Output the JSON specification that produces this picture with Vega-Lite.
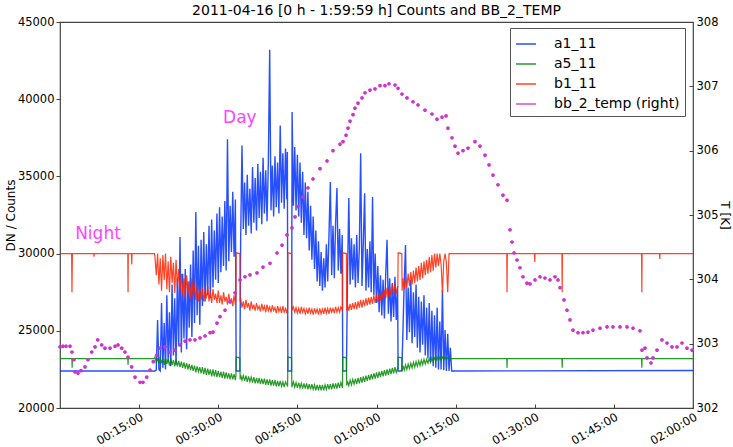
{
  "$schema": "https://vega.github.io/schema/vega-lite/v6.json",
  "width": 633,
  "height": 386,
  "autosize": "none",
  "padding": {"left": 60, "top": 22, "right": 40, "bottom": 39},
  "background": "white",
  "title": {"text": "2011-04-16 [0 h - 1:59:59 h] Counts and BB_2_TEMP", "fontSize": 14, "fontWeight": "normal", "font": "DejaVu Sans", "color": "#000", "offset": -2},
  "config": {
    "font": "DejaVu Sans",
    "view": {"stroke": "#444", "strokeWidth": 1.2},
    "axis": {"grid": false, "domain": false, "labelFont": "DejaVu Sans", "labelFontSize": 11.5, "labelColor": "#000", "tickColor": "#444", "titleFont": "DejaVu Sans", "titleFontSize": 12, "titleFontWeight": "normal", "titleColor": "#000"}
  },
  "datasets": {
    "a1": [
      {"t":0,"v":22400},{"t":18,"v":22400},{"t":18.25,"v":22450},{"t":18.5,"v":25700},{"t":18.75,"v":22500},{"t":19,"v":22400},{"t":19.25,"v":26800},{"t":19.5,"v":22600},{"t":19.75,"v":25500},{"t":20,"v":22500},{"t":20.25,"v":27300},{"t":20.5,"v":23000},{"t":20.75,"v":26200},{"t":21,"v":22700},{"t":21.25,"v":28000},{"t":21.5,"v":23400},{"t":21.75,"v":27100},{"t":22,"v":22800},{"t":22.25,"v":28400},{"t":22.5,"v":24000},{"t":22.75,"v":31080},{"t":23,"v":23600},{"t":23.25,"v":28700},{"t":23.5,"v":24500},{"t":23.75,"v":29000},{"t":24,"v":23800},{"t":24.25,"v":28200},{"t":24.5,"v":25200},{"t":24.75,"v":29300},{"t":25,"v":24600},{"t":25.25,"v":30200},{"t":25.5,"v":25500},{"t":25.75,"v":32700},{"t":26,"v":26000},{"t":26.25,"v":30500},{"t":26.5,"v":25400},{"t":26.75,"v":30900},{"t":27,"v":26600},{"t":27.25,"v":31400},{"t":27.5,"v":26900},{"t":27.75,"v":30600},{"t":28,"v":27300},{"t":28.25,"v":31800},{"t":28.5,"v":27100},{"t":28.75,"v":32200},{"t":29,"v":27800},{"t":29.25,"v":31500},{"t":29.5,"v":28300},{"t":29.75,"v":32600},{"t":30,"v":28100},{"t":30.25,"v":33000},{"t":30.5,"v":28800},{"t":30.75,"v":32400},{"t":31,"v":29200},{"t":31.25,"v":33400},{"t":31.5,"v":28900},{"t":31.75,"v":37400},{"t":32,"v":29500},{"t":32.25,"v":33100},{"t":32.5,"v":30100},{"t":32.75,"v":34000},{"t":33,"v":29800},{"t":33.25,"v":33500},{"t":33.4,"v":22400},{"t":34.1,"v":22400},
      {"t":34.25,"v":31000},{"t":34.5,"v":37000},{"t":34.75,"v":31600},{"t":35,"v":34600},{"t":35.25,"v":31200},{"t":35.5,"v":35100},{"t":35.75,"v":31800},{"t":36,"v":34200},{"t":36.25,"v":31300},{"t":36.5,"v":35600},{"t":36.75,"v":32000},{"t":37,"v":34900},{"t":37.25,"v":31500},{"t":37.5,"v":35800},{"t":37.75,"v":32300},{"t":38,"v":35300},{"t":38.25,"v":31900},{"t":38.5,"v":36200},{"t":38.75,"v":32600},{"t":39,"v":35400},{"t":39.25,"v":32100},{"t":39.5,"v":36000},{"t":39.75,"v":43200},{"t":40,"v":32800},{"t":40.25,"v":35700},{"t":40.5,"v":32400},{"t":40.75,"v":36300},{"t":41,"v":33000},{"t":41.25,"v":35900},{"t":41.5,"v":32600},{"t":41.75,"v":38300},{"t":42,"v":33300},{"t":42.25,"v":36500},{"t":42.5,"v":32900},{"t":42.75,"v":36800},{"t":43,"v":33500},{"t":43.1,"v":36580},{"t":43.2,"v":22400},{"t":43.9,"v":22400},
      {"t":44,"v":39170},{"t":44.25,"v":33100},{"t":44.5,"v":36900},{"t":44.75,"v":32800},{"t":45,"v":36400},{"t":45.25,"v":32400},{"t":45.5,"v":35900},{"t":45.75,"v":32000},{"t":46,"v":35300},{"t":46.25,"v":31200},{"t":46.5,"v":34600},{"t":46.75,"v":31000},{"t":47,"v":34000},{"t":47.25,"v":30200},{"t":47.5,"v":33100},{"t":47.75,"v":29600},{"t":48,"v":32400},{"t":48.25,"v":29000},{"t":48.5,"v":31500},{"t":48.75,"v":28200},{"t":49,"v":30800},{"t":49.25,"v":27900},{"t":49.5,"v":30100},{"t":49.75,"v":27600},{"t":50,"v":29700},{"t":50.25,"v":27800},{"t":50.5,"v":30600},{"t":50.75,"v":28200},{"t":51,"v":31300},{"t":51.25,"v":34640},{"t":51.5,"v":28600},{"t":51.75,"v":31800},{"t":52,"v":28400},{"t":52.25,"v":32000},{"t":52.5,"v":34250},{"t":52.75,"v":28900},{"t":53,"v":31600},{"t":53.25,"v":28700},{"t":53.5,"v":31200},{"t":53.6,"v":22400},{"t":54.3,"v":22400},
      {"t":54.5,"v":28400},{"t":54.75,"v":33600},{"t":55,"v":28000},{"t":55.25,"v":31000},{"t":55.5,"v":28300},{"t":55.75,"v":30600},{"t":56,"v":27800},{"t":56.25,"v":31200},{"t":56.5,"v":28100},{"t":56.75,"v":30400},{"t":57,"v":36500},{"t":57.25,"v":27900},{"t":57.5,"v":30700},{"t":57.75,"v":33900},{"t":58,"v":27600},{"t":58.25,"v":30300},{"t":58.5,"v":27800},{"t":58.75,"v":30800},{"t":59,"v":27500},{"t":59.25,"v":33660},{"t":59.5,"v":27300},{"t":59.75,"v":30000},{"t":60,"v":26800},{"t":60.25,"v":29200},{"t":60.5,"v":26200},{"t":60.75,"v":28600},{"t":61,"v":26000},{"t":61.25,"v":28300},{"t":61.5,"v":25800},{"t":61.75,"v":28700},{"t":62,"v":30900},{"t":62.25,"v":26100},{"t":62.5,"v":28400},{"t":62.75,"v":25600},{"t":63,"v":28100},{"t":63.25,"v":25900},{"t":63.5,"v":28500},{"t":63.75,"v":25700},{"t":64,"v":27900},{"t":64.1,"v":22400},{"t":64.8,"v":22400},
      {"t":65,"v":24800},{"t":65.25,"v":28100},{"t":65.5,"v":30560},{"t":65.75,"v":24400},{"t":66,"v":27800},{"t":66.25,"v":24900},{"t":66.5,"v":28300},{"t":66.75,"v":24200},{"t":67,"v":27500},{"t":67.25,"v":24600},{"t":67.5,"v":28000},{"t":67.75,"v":23900},{"t":68,"v":27200},{"t":68.25,"v":23600},{"t":68.5,"v":26900},{"t":68.75,"v":24100},{"t":69,"v":27300},{"t":69.25,"v":23400},{"t":69.5,"v":26500},{"t":69.75,"v":23200},{"t":70,"v":26800},{"t":70.25,"v":23000},{"t":70.5,"v":26300},{"t":70.75,"v":22700},{"t":71,"v":26000},{"t":71.25,"v":22600},{"t":71.5,"v":26500},{"t":71.75,"v":22500},{"t":72,"v":25600},{"t":72.25,"v":22500},{"t":72.5,"v":27640},{"t":72.75,"v":22450},{"t":73,"v":25050},{"t":73.25,"v":22400},{"t":73.5,"v":24800},{"t":73.75,"v":22400},{"t":74,"v":23900},{"t":74.25,"v":22400},{"t":120,"v":22430}
    ],
    "a5": [
      {"t":0,"v":23200},{"t":2.25,"v":23200},{"t":2.3,"v":22600},{"t":2.35,"v":23200},{"t":12.85,"v":23200},{"t":12.9,"v":22800},{"t":12.95,"v":23200},{"t":17.9,"v":23200},
      {"t":18,"v":23300},{"t":18.25,"v":22950},{"t":18.5,"v":23250},{"t":18.75,"v":22850},{"t":19,"v":23300},{"t":19.25,"v":22900},{"t":19.5,"v":23200},{"t":19.75,"v":22800},{"t":20,"v":23250},{"t":20.25,"v":22850},{"t":20.5,"v":23150},{"t":20.75,"v":22750},{"t":21,"v":23200},{"t":21.25,"v":22800},{"t":21.5,"v":23100},{"t":21.75,"v":22700},{"t":22,"v":23150},{"t":22.25,"v":22700},{"t":22.5,"v":23050},{"t":22.75,"v":22650},{"t":23,"v":23000},{"t":23.25,"v":22600},{"t":23.5,"v":22950},{"t":23.75,"v":22550},{"t":24,"v":22900},{"t":24.25,"v":22500},{"t":24.5,"v":22850},{"t":24.75,"v":22450},{"t":25,"v":22800},{"t":25.25,"v":22400},{"t":25.5,"v":22750},{"t":25.75,"v":22300},{"t":26,"v":22700},{"t":26.25,"v":22350},{"t":26.5,"v":22650},{"t":26.75,"v":22250},{"t":27,"v":22650},{"t":27.25,"v":22200},{"t":27.5,"v":22600},{"t":27.75,"v":22150},{"t":28,"v":22550},{"t":28.25,"v":22150},{"t":28.5,"v":22500},{"t":28.75,"v":22050},{"t":29,"v":22500},{"t":29.25,"v":22050},{"t":29.5,"v":22450},{"t":29.75,"v":22000},{"t":30,"v":22400},{"t":30.25,"v":22000},{"t":30.5,"v":22350},{"t":30.75,"v":21950},{"t":31,"v":22350},{"t":31.25,"v":21900},{"t":31.5,"v":22300},{"t":31.75,"v":21900},{"t":32,"v":22250},{"t":32.25,"v":21850},{"t":32.5,"v":22250},{"t":32.75,"v":21850},{"t":33,"v":22200},{"t":33.25,"v":21800},{"t":33.35,"v":22100},{"t":33.4,"v":23300},{"t":34.1,"v":23250},{"t":34.15,"v":21850},
      {"t":34.25,"v":22150},{"t":34.5,"v":21800},{"t":34.75,"v":22100},{"t":35,"v":21750},{"t":35.25,"v":22100},{"t":35.5,"v":21700},{"t":35.75,"v":22050},{"t":36,"v":21700},{"t":36.25,"v":22000},{"t":36.5,"v":21650},{"t":36.75,"v":22000},{"t":37,"v":21600},{"t":37.25,"v":21950},{"t":37.5,"v":21600},{"t":37.75,"v":21950},{"t":38,"v":21550},{"t":38.25,"v":21900},{"t":38.5,"v":21550},{"t":38.75,"v":21900},{"t":39,"v":21500},{"t":39.25,"v":21850},{"t":39.5,"v":21500},{"t":39.75,"v":21850},{"t":40,"v":21450},{"t":40.25,"v":21800},{"t":40.5,"v":21450},{"t":40.75,"v":21800},{"t":41,"v":21400},{"t":41.25,"v":21750},{"t":41.5,"v":21400},{"t":41.75,"v":21750},{"t":42,"v":21400},{"t":42.25,"v":21700},{"t":42.5,"v":21350},{"t":42.75,"v":21700},{"t":43.15,"v":21400},{"t":43.2,"v":23300},{"t":43.9,"v":23250},{"t":43.95,"v":21350},
      {"t":44.25,"v":21700},{"t":44.5,"v":21350},{"t":44.75,"v":21650},{"t":45,"v":21300},{"t":45.25,"v":21650},{"t":45.5,"v":21300},{"t":45.75,"v":21600},{"t":46,"v":21250},{"t":46.25,"v":21600},{"t":46.5,"v":21250},{"t":46.75,"v":21600},{"t":47,"v":21200},{"t":47.25,"v":21550},{"t":47.5,"v":21200},{"t":47.75,"v":21550},{"t":48,"v":21200},{"t":48.25,"v":21500},{"t":48.5,"v":21150},{"t":48.75,"v":21500},{"t":49,"v":21150},{"t":49.25,"v":21500},{"t":49.5,"v":21150},{"t":49.75,"v":21500},{"t":50,"v":21150},{"t":50.25,"v":21500},{"t":50.5,"v":21200},{"t":50.75,"v":21550},{"t":51,"v":21200},{"t":51.25,"v":21550},{"t":51.5,"v":21200},{"t":51.75,"v":21600},{"t":52,"v":21250},{"t":52.25,"v":21600},{"t":52.5,"v":21250},{"t":52.75,"v":21650},{"t":53,"v":21300},{"t":53.25,"v":21650},{"t":53.55,"v":21300},{"t":53.6,"v":23300},{"t":54.3,"v":23250},{"t":54.35,"v":21450},
      {"t":54.5,"v":21750},{"t":54.75,"v":21450},{"t":55,"v":21800},{"t":55.25,"v":21500},{"t":55.5,"v":21850},{"t":55.75,"v":21550},{"t":56,"v":21900},{"t":56.25,"v":21550},{"t":56.5,"v":21950},{"t":56.75,"v":21600},{"t":57,"v":22000},{"t":57.25,"v":21650},{"t":57.5,"v":22050},{"t":57.75,"v":21700},{"t":58,"v":22100},{"t":58.25,"v":21750},{"t":58.5,"v":22150},{"t":58.75,"v":21800},{"t":59,"v":22200},{"t":59.25,"v":21850},{"t":59.5,"v":22250},{"t":59.75,"v":21900},{"t":60,"v":22300},{"t":60.25,"v":21950},{"t":60.5,"v":22350},{"t":60.75,"v":22000},{"t":61,"v":22400},{"t":61.25,"v":22050},{"t":61.5,"v":22450},{"t":61.75,"v":22100},{"t":62,"v":22500},{"t":62.25,"v":22150},{"t":62.5,"v":22550},{"t":62.75,"v":22200},{"t":63,"v":22600},{"t":63.25,"v":22250},{"t":63.5,"v":22650},{"t":63.75,"v":22300},{"t":64.05,"v":22600},{"t":64.1,"v":23300},{"t":64.8,"v":23250},{"t":64.85,"v":22400},
      {"t":65,"v":22750},{"t":65.25,"v":22450},{"t":65.5,"v":22800},{"t":65.75,"v":22500},{"t":66,"v":22850},{"t":66.25,"v":22550},{"t":66.5,"v":22900},{"t":66.75,"v":22600},{"t":67,"v":22950},{"t":67.25,"v":22650},{"t":67.5,"v":23000},{"t":67.75,"v":22700},{"t":68,"v":23050},{"t":68.25,"v":22750},{"t":68.5,"v":23100},{"t":68.75,"v":22800},{"t":69,"v":23150},{"t":69.25,"v":22850},{"t":69.5,"v":23150},{"t":69.75,"v":22900},{"t":70,"v":23200},{"t":70.25,"v":22950},{"t":70.5,"v":23250},{"t":70.75,"v":23000},{"t":71,"v":23250},{"t":71.25,"v":23050},{"t":71.5,"v":23300},{"t":71.75,"v":23050},{"t":72,"v":23300},{"t":72.25,"v":23100},{"t":72.5,"v":23300},{"t":72.75,"v":23150},{"t":73,"v":23300},{"t":73.25,"v":23150},{"t":73.5,"v":23250},{"t":73.75,"v":23200},{"t":74,"v":23200},
      {"t":84.7,"v":23200},{"t":84.74,"v":22600},{"t":84.8,"v":23200},{"t":95.15,"v":23200},{"t":95.2,"v":22600},{"t":95.25,"v":23200},{"t":110.25,"v":23200},{"t":110.3,"v":22600},{"t":110.35,"v":23200},{"t":120,"v":23200}
    ],
    "b1": [
      {"t":0,"v":30000},{"t":2.2,"v":30000},{"t":2.27,"v":27500},{"t":2.35,"v":30000},{"t":6.4,"v":30000},{"t":6.45,"v":29800},{"t":6.5,"v":30000},{"t":12.85,"v":30000},{"t":12.9,"v":27500},{"t":12.95,"v":30000},{"t":13.55,"v":30000},{"t":13.6,"v":29300},{"t":13.65,"v":30000},{"t":17.9,"v":30000},
      {"t":18,"v":29800},{"t":18.25,"v":28600},{"t":18.5,"v":30000},{"t":18.75,"v":28000},{"t":19,"v":29700},{"t":19.25,"v":27600},{"t":19.5,"v":29900},{"t":19.75,"v":28300},{"t":20,"v":30000},{"t":20.25,"v":27700},{"t":20.5,"v":29500},{"t":20.75,"v":27500},{"t":21,"v":29800},{"t":21.25,"v":28100},{"t":21.5,"v":29400},{"t":21.75,"v":27450},{"t":22,"v":29600},{"t":22.25,"v":27800},{"t":22.5,"v":29000},{"t":22.75,"v":27600},
      {"t":23,"v":28700},{"t":23.25,"v":27300},{"t":23.5,"v":28400},{"t":23.75,"v":27100},{"t":24,"v":28600},{"t":24.25,"v":27400},{"t":24.5,"v":28200},{"t":24.75,"v":27000},{"t":25,"v":28400},{"t":25.25,"v":27200},{"t":25.5,"v":28000},{"t":25.75,"v":27000},
      {"t":26,"v":27900},{"t":26.25,"v":26900},{"t":26.5,"v":27700},{"t":26.75,"v":27000},{"t":27,"v":27800},{"t":27.25,"v":26900},{"t":27.5,"v":27600},{"t":27.75,"v":27100},{"t":28,"v":27900},{"t":28.25,"v":26900},{"t":28.5,"v":27500},{"t":28.75,"v":26800},{"t":29,"v":27700},{"t":29.25,"v":27000},{"t":29.5,"v":27400},{"t":29.75,"v":26800},
      {"t":30,"v":27600},{"t":30.25,"v":26800},{"t":30.5,"v":27300},{"t":30.75,"v":26700},{"t":31,"v":27500},{"t":31.25,"v":26900},{"t":31.5,"v":27200},{"t":31.75,"v":26700},{"t":32,"v":27400},{"t":32.25,"v":26800},{"t":32.5,"v":27100},{"t":32.75,"v":26600},{"t":33,"v":27300},{"t":33.25,"v":26700},{"t":33.35,"v":27000},{"t":33.4,"v":30050},{"t":34.1,"v":30000},{"t":34.15,"v":26900},
      {"t":34.25,"v":27100},{"t":34.5,"v":26500},{"t":34.75,"v":26900},{"t":35,"v":26400},{"t":35.25,"v":27000},{"t":35.5,"v":26500},{"t":35.75,"v":26800},{"t":36,"v":26300},{"t":36.25,"v":26900},{"t":36.5,"v":26400},{"t":36.75,"v":26700},{"t":37,"v":26300},{"t":37.25,"v":26800},{"t":37.5,"v":26400},{"t":37.75,"v":26600},{"t":38,"v":26250},{"t":38.25,"v":26750},{"t":38.5,"v":26350},{"t":38.75,"v":26600},{"t":39,"v":26200},{"t":39.25,"v":26700},{"t":39.5,"v":26300},{"t":39.75,"v":26550},{"t":40,"v":26200},{"t":40.25,"v":26650},{"t":40.5,"v":26300},{"t":40.75,"v":26500},{"t":41,"v":26150},{"t":41.25,"v":26600},{"t":41.5,"v":26250},{"t":41.75,"v":26500},{"t":42,"v":26150},{"t":42.25,"v":26600},{"t":42.5,"v":26200},{"t":42.75,"v":26450},{"t":43,"v":26150},{"t":43.15,"v":26500},{"t":43.2,"v":30050},{"t":43.9,"v":30000},{"t":43.95,"v":26300},
      {"t":44.25,"v":26550},{"t":44.5,"v":26200},{"t":44.75,"v":26500},{"t":45,"v":26150},{"t":45.25,"v":26450},{"t":45.5,"v":26100},{"t":45.75,"v":26550},{"t":46,"v":26200},{"t":46.25,"v":26450},{"t":46.5,"v":26100},{"t":46.75,"v":26400},{"t":47,"v":26100},{"t":47.25,"v":26500},{"t":47.5,"v":26150},{"t":47.75,"v":26400},{"t":48,"v":26050},{"t":48.25,"v":26450},{"t":48.5,"v":26150},{"t":48.75,"v":26400},{"t":49,"v":26050},{"t":49.25,"v":26450},{"t":49.5,"v":26100},{"t":49.75,"v":26400},{"t":50,"v":26100},{"t":50.25,"v":26500},{"t":50.5,"v":26150},{"t":50.75,"v":26450},{"t":51,"v":26100},{"t":51.25,"v":26500},{"t":51.5,"v":26200},{"t":51.75,"v":26450},{"t":52,"v":26150},{"t":52.25,"v":26550},{"t":52.5,"v":26200},{"t":52.75,"v":26500},{"t":53,"v":26200},{"t":53.25,"v":26550},{"t":53.55,"v":26300},{"t":53.6,"v":30050},{"t":54.3,"v":30000},{"t":54.35,"v":26300},
      {"t":54.5,"v":26700},{"t":54.75,"v":26300},{"t":55,"v":26750},{"t":55.25,"v":26350},{"t":55.5,"v":26800},{"t":55.75,"v":26400},{"t":56,"v":26850},{"t":56.25,"v":26400},{"t":56.5,"v":26900},{"t":56.75,"v":26500},{"t":57,"v":27000},{"t":57.25,"v":26500},{"t":57.5,"v":27000},{"t":57.75,"v":26600},{"t":58,"v":27100},{"t":58.25,"v":26650},{"t":58.5,"v":27150},{"t":58.75,"v":26700},{"t":59,"v":27200},{"t":59.25,"v":26750},{"t":59.5,"v":27300},{"t":59.75,"v":26800},{"t":60,"v":27350},{"t":60.25,"v":26850},{"t":60.5,"v":27450},{"t":60.75,"v":26950},{"t":61,"v":27550},{"t":61.25,"v":27000},{"t":61.5,"v":27650},{"t":61.75,"v":27100},{"t":62,"v":27800},{"t":62.25,"v":27200},{"t":62.5,"v":27850},{"t":62.75,"v":27300},{"t":63,"v":28000},{"t":63.25,"v":27350},{"t":63.5,"v":28100},{"t":63.75,"v":27400},{"t":64.05,"v":27900},{"t":64.1,"v":30050},{"t":64.8,"v":30000},{"t":64.85,"v":27600},
      {"t":65,"v":28400},{"t":65.25,"v":27700},{"t":65.5,"v":28500},{"t":65.75,"v":27800},{"t":66,"v":28700},{"t":66.25,"v":27900},{"t":66.5,"v":28800},{"t":66.75,"v":28000},{"t":67,"v":28900},{"t":67.25,"v":28100},{"t":67.5,"v":29100},{"t":67.75,"v":28200},{"t":68,"v":29200},{"t":68.25,"v":28300},{"t":68.5,"v":29400},{"t":68.75,"v":28400},{"t":69,"v":29500},{"t":69.25,"v":28600},{"t":69.5,"v":29600},{"t":69.75,"v":28700},{"t":70,"v":29800},{"t":70.25,"v":28800},{"t":70.5,"v":29900},{"t":70.75,"v":28900},{"t":71,"v":30000},{"t":71.25,"v":29100},{"t":71.5,"v":30000},{"t":71.75,"v":29200},{"t":72,"v":30000},{"t":72.25,"v":29300},{"t":72.5,"v":27450},{"t":72.75,"v":29500},{"t":73,"v":30000},{"t":73.25,"v":29400},{"t":73.5,"v":27500},{"t":73.75,"v":30000},{"t":74.2,"v":30000},
      {"t":84.7,"v":30000},{"t":84.74,"v":27500},{"t":84.8,"v":30000},{"t":89.95,"v":30000},{"t":90,"v":29460},{"t":90.05,"v":30000},{"t":95.15,"v":30000},{"t":95.2,"v":27500},{"t":95.25,"v":30000},{"t":110.25,"v":30000},{"t":110.3,"v":27500},{"t":110.35,"v":30000},{"t":113.65,"v":30000},{"t":113.7,"v":29650},{"t":113.75,"v":30000},{"t":120,"v":30000}
    ],
    "temp": [
      {"t":0,"T":302.95},{"t":0.57,"T":302.96},{"t":1.14,"T":302.96},{"t":1.9,"T":302.96},{"t":2.27,"T":302.87},{"t":2.65,"T":302.75},{"t":2.84,"T":302.56},{"t":3.41,"T":302.54},{"t":3.98,"T":302.58},{"t":4.74,"T":302.64},{"t":5.31,"T":302.75},{"t":6.01,"T":302.87},{"t":6.64,"T":302.95},{"t":7.15,"T":303.06},{"t":7.91,"T":302.98},{"t":8.53,"T":302.93},{"t":9.48,"T":302.93},{"t":10.43,"T":302.96},{"t":11,"T":302.98},{"t":11.7,"T":302.93},{"t":12.32,"T":302.87},{"t":12.89,"T":302.79},{"t":13.59,"T":302.64},{"t":14.22,"T":302.48},{"t":15.17,"T":302.4},{"t":15.73,"T":302.4},{"t":16.44,"T":302.48},{"t":17.06,"T":302.59},{"t":17.69,"T":302.72},{"t":18.33,"T":302.82},{"t":18.96,"T":302.93},{"t":19.91,"T":302.95},{"t":20.85,"T":302.87},{"t":21.8,"T":302.9},{"t":22.75,"T":302.98},{"t":23.7,"T":303.04},{"t":24.64,"T":303.06},{"t":25.59,"T":303.06},{"t":26.54,"T":303.09},{"t":27.49,"T":303.12},{"t":28.44,"T":303.17},{"t":29,"T":303.18},{"t":29.76,"T":303.32},{"t":30.33,"T":303.42},{"t":31.28,"T":303.52},{"t":32.23,"T":303.65},{"t":33.18,"T":303.79},{"t":34.12,"T":303.99},{"t":35.07,"T":304.04},{"t":36.02,"T":304.07},{"t":37.35,"T":304.1},{"t":38.48,"T":304.19},{"t":39.81,"T":304.25},{"t":41.14,"T":304.41},{"t":42.09,"T":304.53},{"t":43.03,"T":304.69},{"t":43.98,"T":304.8},{"t":44.55,"T":304.97},{"t":45.12,"T":305.13},{"t":46.07,"T":305.28},{"t":47.01,"T":305.42},{"t":47.96,"T":305.56},{"t":49.29,"T":305.72},{"t":50.62,"T":305.84},{"t":51.75,"T":306},{"t":53.08,"T":306.1},{"t":53.65,"T":306.14},{"t":54.22,"T":306.24},{"t":54.6,"T":306.35},{"t":54.98,"T":306.46},{"t":55.55,"T":306.56},{"t":55.92,"T":306.66},{"t":56.49,"T":306.74},{"t":57.25,"T":306.82},{"t":57.82,"T":306.9},{"t":58.77,"T":306.94},{"t":59.72,"T":306.96},{"t":60.66,"T":307.01},{"t":61.61,"T":307.01},{"t":62.37,"T":307.04},{"t":63.51,"T":307.02},{"t":64.08,"T":306.97},{"t":64.83,"T":306.88},{"t":65.78,"T":306.82},{"t":66.92,"T":306.76},{"t":67.87,"T":306.71},{"t":69.19,"T":306.63},{"t":70.52,"T":306.57},{"t":71.47,"T":306.49},{"t":72.42,"T":306.52},{"t":73.18,"T":306.54},{"t":73.55,"T":306.35},{"t":74.31,"T":306.2},{"t":74.88,"T":306.07},{"t":75.45,"T":305.96},{"t":76.4,"T":306},{"t":77.35,"T":306.04},{"t":78.67,"T":306.14},{"t":79.62,"T":306.07},{"t":80.57,"T":305.93},{"t":81.33,"T":305.78},{"t":82.09,"T":305.62},{"t":83.03,"T":305.47},{"t":83.98,"T":305.31},{"t":84.74,"T":305.23},{"t":85.31,"T":304.77},{"t":85.69,"T":304.58},{"t":86.07,"T":304.41},{"t":86.64,"T":304.3},{"t":87.2,"T":304.18},{"t":87.77,"T":304.04},{"t":88.53,"T":303.94},{"t":89.1,"T":303.93},{"t":90.05,"T":303.99},{"t":91,"T":304.04},{"t":91.94,"T":304.02},{"t":92.89,"T":303.99},{"t":93.84,"T":304.04},{"t":94.41,"T":303.99},{"t":94.79,"T":303.87},{"t":95.55,"T":303.68},{"t":96.11,"T":303.52},{"t":96.68,"T":303.37},{"t":97.25,"T":303.21},{"t":98.2,"T":303.17},{"t":99.15,"T":303.17},{"t":100.09,"T":303.18},{"t":101.04,"T":303.21},{"t":102.37,"T":303.24},{"t":103.7,"T":303.26},{"t":104.83,"T":303.26},{"t":106.16,"T":303.26},{"t":107.49,"T":303.26},{"t":108.63,"T":303.24},{"t":109.95,"T":303.2},{"t":110.33,"T":302.9},{"t":110.9,"T":302.93},{"t":111.28,"T":302.78},{"t":112.04,"T":302.7},{"t":112.42,"T":302.78},{"t":113.18,"T":302.9},{"t":114.12,"T":303.06},{"t":115.07,"T":303.01},{"t":116.02,"T":302.95},{"t":116.97,"T":302.95},{"t":117.91,"T":303.01},{"t":118.86,"T":302.93},{"t":119.81,"T":302.9}
    ],
    "notes": [
      {"t":34.1,"v":38780,"label":"Day"},
      {"t":7.2,"v":31270,"label":"Night"}
    ]
  },
  "encoding": {
    "x": {
      "field": "t", "type": "quantitative",
      "scale": {"domain": [0, 120], "nice": false, "zero": false},
      "axis": {"title": null, "values": [15, 30, 45, 60, 75, 90, 105, 120], "labelExpr": "timeFormat(datetime(2011, 3, 16, 0, datum.value, 0), '%H:%M:%S')", "labelAngle": -30, "labelAlign": "right", "labelBaseline": "top", "tickSize": -4, "labelPadding": 7}
    }
  },
  "layer": [
    {
      "encoding": {
        "y": {"field": "v", "type": "quantitative", "scale": {"domain": [20000, 45000], "nice": false, "zero": false}, "axis": {"title": "DN / Counts", "format": "d", "values": [20000, 25000, 30000, 35000, 40000, 45000], "tickSize": 4, "labelPadding": 2, "titlePadding": 0}}
      },
      "layer": [
        {
          "data": {"name": "a1"},
          "mark": {"type": "line", "strokeWidth": 1.4, "opacity": 0.85},
          "encoding": {
            "color": {
              "datum": "a1_11",
              "scale": {"domain": ["a1_11", "a5_11", "b1_11", "bb_2_temp (right)"], "range": ["#0030ff", "#008800", "#ff2200", "#cc33cc"]},
              "legend": {"title": null, "orient": "none", "legendX": 450, "legendY": 6, "symbolType": "stroke", "symbolSize": 400, "symbolStrokeWidth": 1.5, "symbolOpacity": 0.7, "labelFontSize": 14, "labelFont": "DejaVu Sans", "labelColor": "#000", "padding": 5, "strokeColor": "#555", "fillColor": "white", "rowPadding": 2, "labelOffset": 17}
            }
          }
        },
        {
          "data": {"name": "a5"},
          "mark": {"type": "line", "strokeWidth": 1.2, "opacity": 0.85},
          "encoding": {"color": {"datum": "a5_11"}}
        },
        {
          "data": {"name": "b1"},
          "mark": {"type": "line", "strokeWidth": 1.2, "opacity": 0.85},
          "encoding": {"color": {"datum": "b1_11"}}
        },
        {
          "data": {"name": "notes"},
          "mark": {"type": "text", "fontSize": 17, "color": "#ff44ff", "baseline": "middle", "align": "center", "font": "DejaVu Sans"},
          "encoding": {"text": {"field": "label"}}
        }
      ]
    },
    {
      "data": {"name": "temp"},
      "mark": {"type": "point", "filled": false, "size": 3, "strokeWidth": 2, "opacity": 1},
      "encoding": {
        "y": {"field": "T", "type": "quantitative", "scale": {"domain": [302, 308], "nice": false, "zero": false}, "axis": {"title": "T [K]", "orient": "right", "values": [302, 303, 304, 305, 306, 307, 308], "tickSize": -4, "labelPadding": 7, "titlePadding": 0}},
        "color": {"datum": "bb_2_temp (right)"}
      }
    }
  ],
  "resolve": {"scale": {"y": "independent"}}
}
